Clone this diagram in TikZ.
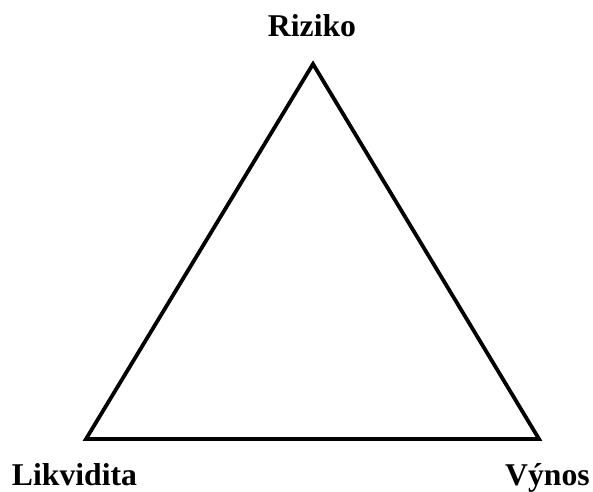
\documentclass[tikz,border=0pt]{standalone}
\usepackage{fontspec}
\setmainfont{Liberation Serif}
\usepackage{tikz}
\usetikzlibrary{positioning}

\begin{document}
\begin{tikzpicture}[x=1pt, y=1pt]
        \useasboundingbox (0, 0) rectangle (593, 491);
        \tikzset{lbl/.style={anchor=base, font=\fontsize{31.7}{38}\selectfont\bfseries}}
        \coordinate (riziko) at (313, 427);
        \coordinate (likvidita) at (86, 52);
        \coordinate (vynos) at (539, 52);
        \draw[line width=3.8pt] (riziko) -- (vynos) -- (likvidita) -- cycle;
        \node[lbl] (rizikotext) at (312, 454) {Riziko};
        \node[lbl] (likviditatext) at (74.5, 6) {Likvidita};
        \node[lbl] (vynostext) at (547.5, 6) {Výnos};
\end{tikzpicture}
\end{document}
